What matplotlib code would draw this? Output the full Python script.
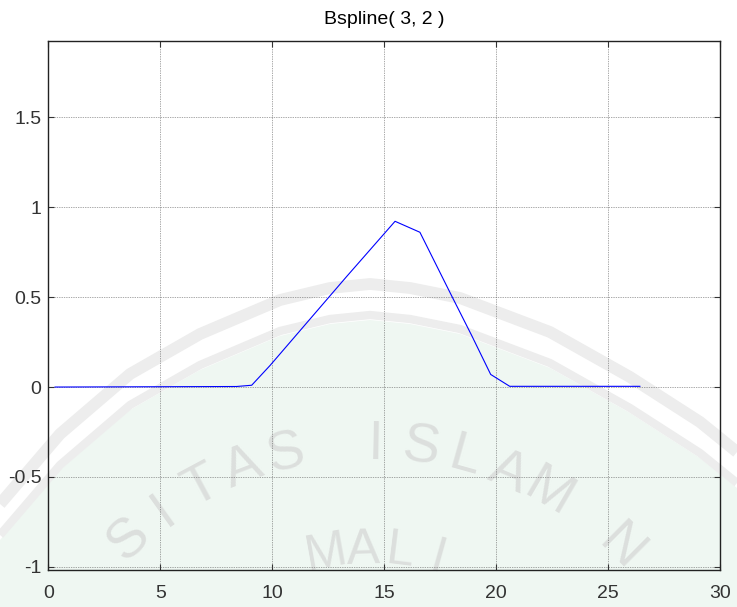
import numpy as np
import matplotlib
matplotlib.use("Agg")
import matplotlib.pyplot as plt
from matplotlib.patches import Polygon
from matplotlib.lines import Line2D

W, H = 737, 607

# B-spline basis curve samples
t_vals = [0.3, 8.4, 9.08, 9.9, 13.32, 15.48, 16.59, 18.0, 18.9, 19.75, 20.6, 26.41]
b_vals = [0.0, 0.003, 0.01, 0.12, 0.615, 0.922, 0.861, 0.509, 0.287, 0.07, 0.004, 0.004]

x_ticks = [0, 5, 10, 15, 20, 25, 30]
y_ticks = [-1, -0.5, 0, 0.5, 1, 1.5]
y_tick_labels = ["-1", "-0.5", "0", "0.5", "1", "1.5"]

plt.rcParams["font.family"] = ["Liberation Sans", "DejaVu Sans"]

fig = plt.figure(figsize=(W / 100, H / 100), dpi=100)


def px(x, y):
    return (x / W, 1 - y / H)


# faint logo in the page background
edge = [(0, 540), (60, 470), (130, 410), (200, 370), (280, 336), (330, 324),
        (370, 320), (410, 324), (460, 334), (550, 368), (630, 413), (700, 458),
        (737, 488)]
fill_pts = [px(*p) for p in edge] + [px(737, 607), px(0, 607)]
fig.add_artist(Polygon(fill_pts, closed=True, transform=fig.transFigure,
                       facecolor="#eff7f2", edgecolor="none", zorder=-10))
for shift, lw in [(5, 6), (36, 8.5)]:
    xs = [p[0] / W for p in edge]
    ys = [1 - (p[1] - shift) / H for p in edge]
    fig.add_artist(Line2D(xs, ys, transform=fig.transFigure, color="#ededed",
                          lw=lw, solid_capstyle="butt", solid_joinstyle="round",
                          zorder=-9))


def arc_text(text, radius, anchor_idx, anchor_deg, step_deg, size):
    cx, cy = 370, H - 800
    for i, ch in enumerate(text):
        if ch == " ":
            continue
        th = np.deg2rad(anchor_deg + (anchor_idx - i) * step_deg)
        x = cx + radius * np.cos(th)
        y = cy + radius * np.sin(th)
        # only letters that sit fully on the page
        if not (35 < x < W - 35 and y > 45):
            continue
        fig.text(x / W, y / H, ch, fontsize=size, color="#dcdfdd",
                 rotation=np.rad2deg(th) - 90, ha="center", va="center",
                 rotation_mode="anchor", zorder=-8)


arc_text("UNIVERSITAS ISLAM NEGERI", 355, 12, 89, 7.3, 40)
arc_text("MAULANA MALIK IBRAHIM", 250, 10, 83, 8.6, 36)

ax = fig.add_axes([48.3 / W, 1 - 569.5 / H, 672 / W, 528.5 / H])
ax.set_facecolor("none")

ax.plot(t_vals, b_vals, color="#0000ff", lw=0.8)

ax.set_xlim(0, 30)
ax.set_ylim(-1.015, 1.925)
ax.set_xticks(x_ticks)
ax.set_yticks(y_ticks)
ax.set_yticklabels(y_tick_labels)
ax.grid(True, color="#555555", linestyle=(0, (1, 1.5)), linewidth=0.5)
ax.tick_params(direction="in", length=4, width=0.8, top=True, right=True,
               labelsize=14, colors="#333333")
ax.tick_params(axis="x", pad=11)
ax.tick_params(axis="y", pad=5)
for s in ax.spines.values():
    s.set_linewidth(1.0)
    s.set_color("#222222")

ax.set_title("Bspline( 3, 2 )", fontsize=14, pad=12)

fig.savefig("out.png", dpi=100)
